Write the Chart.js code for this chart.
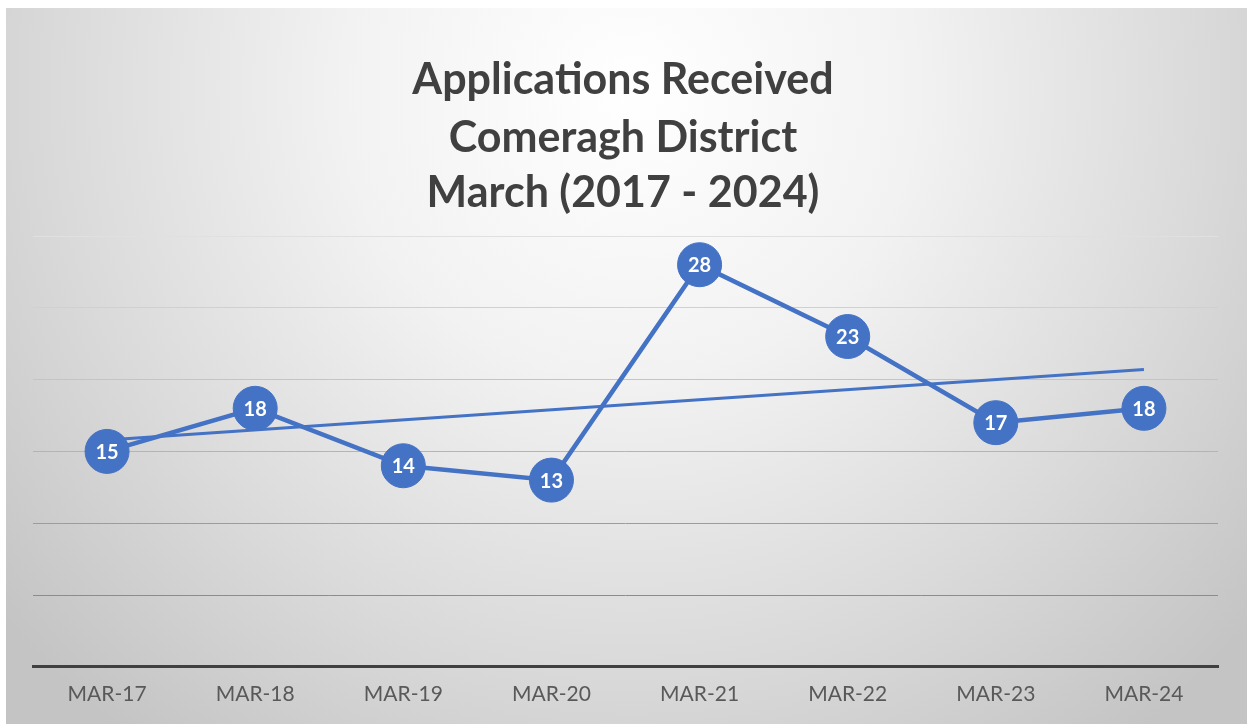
<!DOCTYPE html>
<html>
<head>
<meta charset="utf-8">
<script src="https://cdn.jsdelivr.net/npm/chart.js@4"></script>
<style>
  html, body { margin: 0; padding: 0; background: #ffffff; }
  #wrap { position: absolute; left: 0; top: 0; width: 1250px; height: 724px; }
</style>
</head>
<body>
<div id="wrap"><canvas id="c" width="1250" height="724"></canvas></div>
<script>
const titleLines = ["Applications Received", "Comeragh District", "March (2017 - 2024)"];
const categories = ["MAR-17", "MAR-18", "MAR-19", "MAR-20", "MAR-21", "MAR-22", "MAR-23", "MAR-24"];
const applications = [15, 18, 14, 13, 28, 23, 17, 18];
// linear trendline as drawn in the picture (start and end readings)
const trendline = [15.8, null, null, null, null, null, null, 20.7];
const yTicks = [0, 5, 10, 15, 20, 25, 30];

const BLUE = "#4472C4";
const FONT = "Lato, 'Open Sans', 'DejaVu Sans', sans-serif";

const bgPlugin = {
  id: "bg",
  beforeDraw(chart) {
    const ctx = chart.ctx;
    ctx.save();
    ctx.fillStyle = "#ffffff";
    ctx.fillRect(0, 0, 1250, 724);
    const g = ctx.createRadialGradient(630, 90, 0, 630, 90, 820);
    g.addColorStop(0, "#ffffff");
    g.addColorStop(0.35, "#f2f2f2");
    g.addColorStop(0.7, "#dadada");
    g.addColorStop(1, "#c4c4c4");
    ctx.fillStyle = g;
    ctx.fillRect(6, 8, 1241, 716);
    ctx.restore();
  }
};

const titlePlugin = {
  id: "customTitle",
  afterDraw(chart) {
    const ctx = chart.ctx;
    ctx.save();
    ctx.fillStyle = "#404040";
    ctx.font = "bold 43px " + FONT;
    ctx.textAlign = "center";
    ctx.textBaseline = "alphabetic";
    const baselines = [94, 152, 207];
    titleLines.forEach((t, i) => ctx.fillText(t, 623, baselines[i]));
    ctx.restore();
  }
};

const labelPlugin = {
  id: "pointLabels",
  afterDatasetsDraw(chart) {
    const ctx = chart.ctx;
    const meta = chart.getDatasetMeta(0);
    ctx.save();
    ctx.fillStyle = "#ffffff";
    ctx.font = "bold 20px " + FONT;
    ctx.textAlign = "center";
    ctx.textBaseline = "middle";
    meta.data.forEach((pt, i) => {
      ctx.fillText(String(applications[i]), pt.x, pt.y + 1);
    });
    ctx.restore();
  }
};

const gridColors = { 0: "#404040", 5: "#8c8c8c", 10: "#9c9c9c", 15: "#b4b4b4", 20: "#c4c4c4", 25: "#d0d0d0", 30: "#e0e0e0" };

new Chart(document.getElementById("c"), {
  type: "line",
  data: {
    labels: categories,
    datasets: [
      {
        label: "Applications",
        data: applications,
        borderColor: BLUE,
        backgroundColor: BLUE,
        borderWidth: 4.5,
        pointRadius: 22,
        pointBackgroundColor: BLUE,
        pointBorderColor: BLUE,
        pointBorderWidth: 1,
        tension: 0,
        order: 1
      },
      {
        label: "Trend",
        data: trendline,
        borderColor: BLUE,
        borderWidth: 3,
        pointRadius: 0,
        spanGaps: true,
        tension: 0,
        order: 2
      }
    ]
  },
  options: {
    responsive: false,
    animation: false,
    devicePixelRatio: 1,
    layout: { padding: { left: 33, right: 32, top: 236, bottom: 2 } },
    plugins: {
      legend: { display: false },
      title: { display: false },
      tooltip: { enabled: false }
    },
    scales: {
      x: {
        type: "category",
        offset: true,
        grid: { display: false, drawTicks: false },
        border: { display: true, color: "#404040", width: 3 },
        ticks: {
          color: "#595959",
          font: { family: FONT, size: 21 },
          padding: 15,
          maxRotation: 0
        }
      },
      y: {
        min: 0,
        max: 30,
        afterBuildTicks(axis) { axis.ticks = yTicks.map(v => ({ value: v })); },
        ticks: { display: false },
        border: { display: false },
        grid: {
          drawTicks: false,
          color: ctx => gridColors[ctx.tick.value] || "#c0c0c0",
          lineWidth: ctx => ctx.tick.value === 0 ? 3 : 1
        }
      }
    }
  },
  plugins: [bgPlugin, titlePlugin, labelPlugin]
});
</script>
</body>
</html>
